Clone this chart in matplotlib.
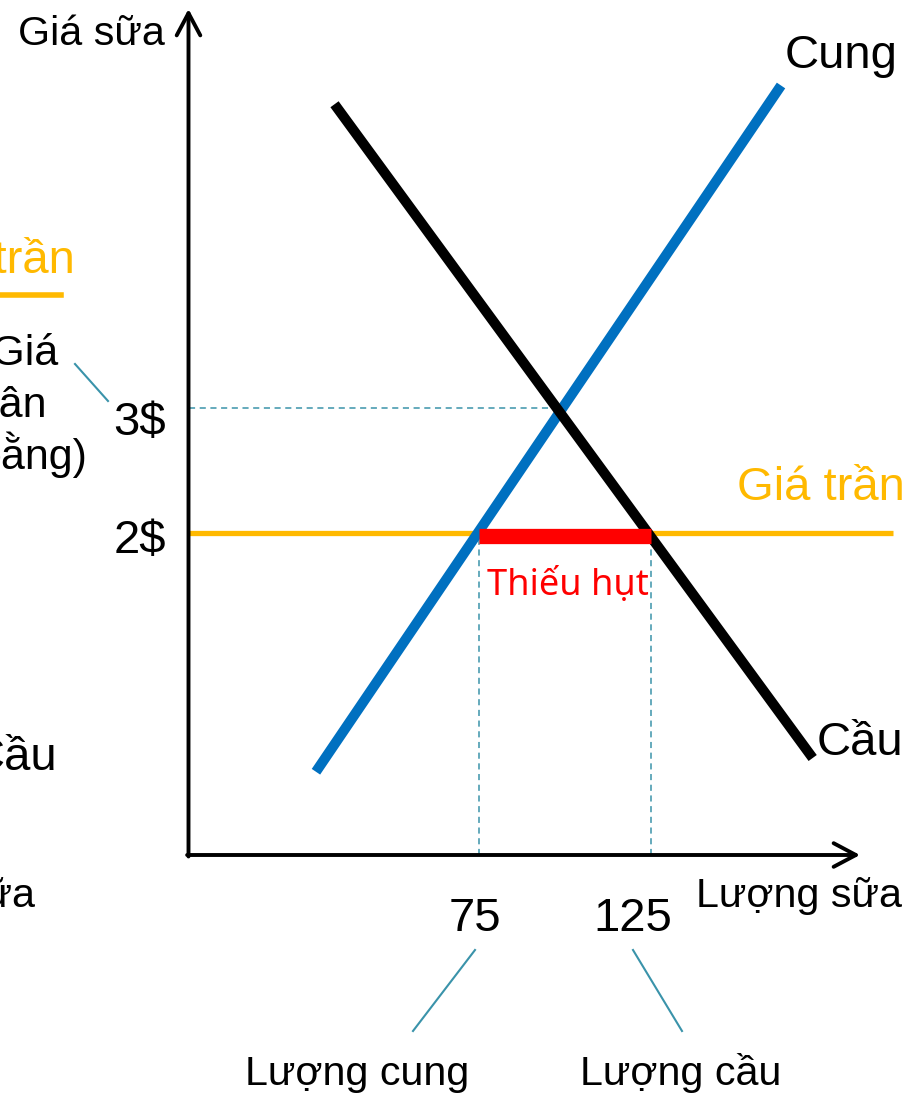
import matplotlib
matplotlib.use("Agg")
import matplotlib.pyplot as plt

# Data -----------------------------------------------
supply_q = [27.6, 162.8]
supply_p = [0.09, 5.58]
demand_q = [33.0, 172.0]
demand_p = [5.43, 0.20]

eq_price = 3
ceiling_price = 2
q_supplied = 75
q_demanded = 125
price_labels = ["3$", "2$"]
qty_labels = ["75", "125"]

# Figure / scale --------------------------------------
W, H = 912, 1095
fig = plt.figure(figsize=(W / 100, H / 100), dpi=100)
ax = fig.add_axes([0, 0, 1, 1])
ax.axis("off")

# pixels per unit quantity and per $ (schematic slide scale)
kx, ky = 3.44, 125.0
x75, y2 = 479, 533
ax.set_xlim(75 - x75 / kx, 75 + (W - x75) / kx)
ax.set_ylim(2 - (H - y2) / ky, 2 + y2 / ky)

def fx(px):
    return px / W

def fy(py):
    return 1 - py / H

plt.rcParams["font.family"] = ["Liberation Sans", "DejaVu Sans"]

BLUE = "#0070C0"
ORANGE = "#FFB900"
RED = "#FF0000"
TEAL = "#3A93AA"

# axes with open arrow heads
q0 = 75 + (188.5 - x75) / kx
p0 = 2 - (855 - y2) / ky
head = dict(arrowstyle="->,head_length=1.6,head_width=0.85", lw=2.8, color="black",
            shrinkA=0, shrinkB=0)
ax.annotate("", xy=(q0, 2 + (y2 - 9) / ky), xytext=(q0, p0 - 0.012), arrowprops=head)
ax.annotate("", xy=(75 + (860 - x75) / kx, p0), xytext=(q0 - 0.4, p0), arrowprops=head)

# guide lines
q_eq = supply_q[0] + (eq_price - supply_p[0]) * (supply_q[1] - supply_q[0]) / (supply_p[1] - supply_p[0])
ax.plot([q0, q_eq], [eq_price, eq_price], color=TEAL, lw=1.1, ls=(0, (4, 3)))
for q in [q_supplied, q_demanded]:
    ax.plot([q, q], [p0, ceiling_price], color=TEAL, lw=1.1, ls=(0, (4, 3)))

# price ceiling
ax.plot([q0, 75 + (893 - x75) / kx], [ceiling_price, ceiling_price], color=ORANGE, lw=3.8,
        solid_capstyle="butt")

# supply and demand
ax.plot(supply_q, supply_p, color=BLUE, lw=7.3, solid_capstyle="butt")
ax.plot(demand_q, demand_p, color="black", lw=7.3, solid_capstyle="butt")

# shortage
ax.plot([q_supplied, q_demanded], [ceiling_price - 0.02, ceiling_price - 0.02], color=RED, lw=11,
        solid_capstyle="butt")

# labels ----------------------------------------------
big = 34
mid = 29.7
fig.text(fx(18), fy(45), "Giá sữa", fontsize=mid, va="baseline")
fig.text(fx(785), fy(68), "Cung", fontsize=big, va="baseline")
fig.text(fx(817), fy(755), "Cầu", fontsize=big, va="baseline")
fig.text(fx(737), fy(500), "Giá trần", fontsize=big, va="baseline", color=ORANGE)
fig.text(fx(902), fy(907), "Lượng sữa", fontsize=mid, va="baseline", ha="right")

fig.text(fx(166), fy(435), price_labels[0], fontsize=big, va="baseline", ha="right")
fig.text(fx(166), fy(553), price_labels[1], fontsize=big, va="baseline", ha="right")
fig.text(fx(475), fy(931), qty_labels[0], fontsize=big, va="baseline", ha="center")
fig.text(fx(633), fy(931), qty_labels[1], fontsize=big, va="baseline", ha="center")

fig.text(fx(568), fy(595), "Thiếu hụt", fontsize=26, va="baseline", ha="center", color=RED,
         family=["Noto Sans", "DejaVu Sans"])

fig.text(fx(357), fy(1085), "Lượng cung", fontsize=mid, va="baseline", ha="center")
fig.text(fx(681), fy(1085), "Lượng cầu", fontsize=mid, va="baseline", ha="center")

# leader lines
fig.add_artist(plt.Line2D([fx(475), fx(413)], [fy(950), fy(1031)], color=TEAL, lw=1.5))
fig.add_artist(plt.Line2D([fx(633), fx(682)], [fy(950), fy(1031)], color=TEAL, lw=1.5))
fig.add_artist(plt.Line2D([fx(75), fx(108)], [fy(364), fy(401)], color=TEAL, lw=1.5))

# left-side legend pieces (run off the slide edge)
fig.text(fx(75), fy(273), "Giá trần", fontsize=big, va="baseline", ha="right", color=ORANGE)
fig.add_artist(plt.Line2D([fx(-60), fx(61)], [fy(295), fy(295)], color=ORANGE, lw=4))
for i, line in enumerate(["(Giá", "cân", "bằng)"]):
    fig.text(fx(-23), fy(365 + 52 * i), line, fontsize=31, va="baseline", ha="left")
fig.text(fx(57), fy(770), "Cầu", fontsize=big, va="baseline", ha="right")
fig.text(fx(35), fy(907), "Lượng sữa", fontsize=mid, va="baseline", ha="right")

fig.savefig("out.png", dpi=100)
